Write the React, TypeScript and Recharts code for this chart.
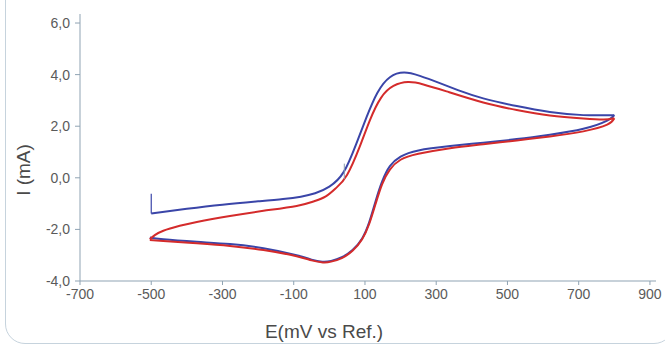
import { LineChart, Line, XAxis, YAxis, Label } from 'recharts';

// cyclic voltammogram, two cycles (blue = 1st, red = 2nd)
const xTicks = [-700, -500, -300, -100, 100, 300, 500, 700, 900];
const yTicks = [-4, -2, 0, 2, 4, 6];

// [E (mV), I (mA)]
const blueSpike = [[-500, -0.62], [-500, -1.38]];

const blueForward = [
  [-500, -1.38], [-400, -1.2], [-300, -1.04], [-200, -0.91], [-130, -0.82], [-80, -0.73],
  [-40, -0.6], [0, -0.34], [40, 0.22], [75, 1.3], [105, 2.37], [135, 3.3], [170, 3.9],
  [210, 4.08], [254, 3.95], [310, 3.67], [367, 3.37], [432, 3.08], [526, 2.78],
  [619, 2.55], [713, 2.43], [800, 2.43],
];

const blueReverse = [
  [800, 2.43], [780, 2.22], [713, 1.9], [619, 1.67], [526, 1.5], [432, 1.36], [339, 1.23],
  [250, 1.06], [200, 0.82], [170, 0.45], [148, -0.15], [130, -0.9], [112, -1.72], [92, -2.35],
  [65, -2.8], [35, -3.08], [5, -3.22], [-20, -3.25], [-50, -3.17], [-92, -3.0],
  [-185, -2.73], [-279, -2.57], [-372, -2.48], [-466, -2.38], [-504, -2.31],
];

const redForward = [
  [-504, -2.38], [-490, -2.22], [-466, -2.05], [-420, -1.86], [-372, -1.71], [-279, -1.48],
  [-185, -1.28], [-92, -1.09], [-45, -0.92], [-10, -0.72], [20, -0.38], [50, 0.12], [85, 1.2],
  [114, 2.24], [145, 3.1], [180, 3.56], [221, 3.71], [264, 3.62], [329, 3.35], [432, 2.92],
  [526, 2.63], [619, 2.42], [713, 2.3], [770, 2.26], [800, 2.31],
];

const redReverse = [
  [800, 2.31], [780, 2.06], [713, 1.8], [619, 1.6], [526, 1.45], [432, 1.3], [339, 1.15],
  [250, 0.93], [200, 0.7], [170, 0.32], [148, -0.25], [130, -1.0], [112, -1.78], [92, -2.38],
  [65, -2.83], [35, -3.11], [5, -3.25], [-18, -3.28], [-50, -3.2], [-92, -3.04],
  [-185, -2.8], [-279, -2.64], [-372, -2.54], [-466, -2.45], [-504, -2.41],
];

const cursorMark = [[42, -0.05], [42, 0.55]];

const BLUE = '#3a45a8';
const RED = '#d42b2b';
const AXIS = '#8fa3b3';
const FONT = '"Liberation Sans", Arial, sans-serif';

const toRows = (pts: number[][]) => pts.map(([e, i]) => ({ e, i }));

const fmtY = (v: number) => v.toFixed(1).replace('.', ',');

const App = () => {
  const series = [
    { key: 'bs', pts: blueSpike, color: BLUE, w: 1.2, type: 'linear' },
    { key: 'bf', pts: blueForward, color: BLUE, w: 2, type: 'natural' },
    { key: 'br', pts: blueReverse, color: BLUE, w: 2, type: 'natural' },
    { key: 'rf', pts: redForward, color: RED, w: 2, type: 'natural' },
    { key: 'rr', pts: redReverse, color: RED, w: 2, type: 'natural' },
    { key: 'cm', pts: cursorMark, color: '#8a9bb0', w: 1, type: 'linear' },
  ];

  return (
    <div
      style={{
        position: 'absolute',
        left: 0,
        top: 0,
        width: 665,
        height: 345,
        overflow: 'hidden',
        background: '#fff',
      }}
    >
      <div
        style={{
          position: 'absolute',
          left: 5,
          top: -30,
          width: 667,
          height: 372,
          border: '1px solid #c6d3dd',
          borderRadius: 20,
        }}
      />
      <div style={{ position: 'absolute', left: 0, top: 0 }}>
        <LineChart width={665} height={345} margin={{ top: 14, right: 9, left: 0, bottom: 34 }}>
          <XAxis
            dataKey="e"
            type="number"
            domain={[-700, 917]}
            allowDataOverflow
            ticks={xTicks}
            interval={0}
            height={30}
            tickSize={4}
            tickMargin={4}
            stroke={AXIS}
            tick={{ fill: '#5a5a5a', fontSize: 14, fontFamily: FONT }}
          >
            <Label
              content={() => (
                <text
                  x={324}
                  y={331}
                  textAnchor="middle"
                  dominantBaseline="central"
                  fill="#4a4a4a"
                  fontSize={19}
                  fontFamily={FONT}
                >
                  E(mV vs Ref.)
                </text>
              )}
            />
          </XAxis>
          <YAxis
            dataKey="i"
            type="number"
            domain={[-4, 6.35]}
            allowDataOverflow
            ticks={yTicks}
            interval={0}
            width={80}
            tickSize={5}
            tickMargin={5}
            stroke={AXIS}
            tickFormatter={fmtY}
            tick={{ fill: '#5a5a5a', fontSize: 14, fontFamily: FONT }}
          >
            <Label
              content={() => (
                <text
                  x={23}
                  y={170}
                  textAnchor="middle"
                  dominantBaseline="central"
                  transform="rotate(-90 23 170)"
                  fill="#4a4a4a"
                  fontSize={19}
                  fontFamily={FONT}
                >
                  I (mA)
                </text>
              )}
            />
          </YAxis>
          {series.map((s) => (
            <Line
              key={s.key}
              data={toRows(s.pts)}
              dataKey="i"
              type={s.type as any}
              stroke={s.color}
              strokeWidth={s.w}
              dot={false}
              activeDot={false}
              isAnimationActive={false}
            />
          ))}
        </LineChart>
      </div>
    </div>
  );
};

export default App;
